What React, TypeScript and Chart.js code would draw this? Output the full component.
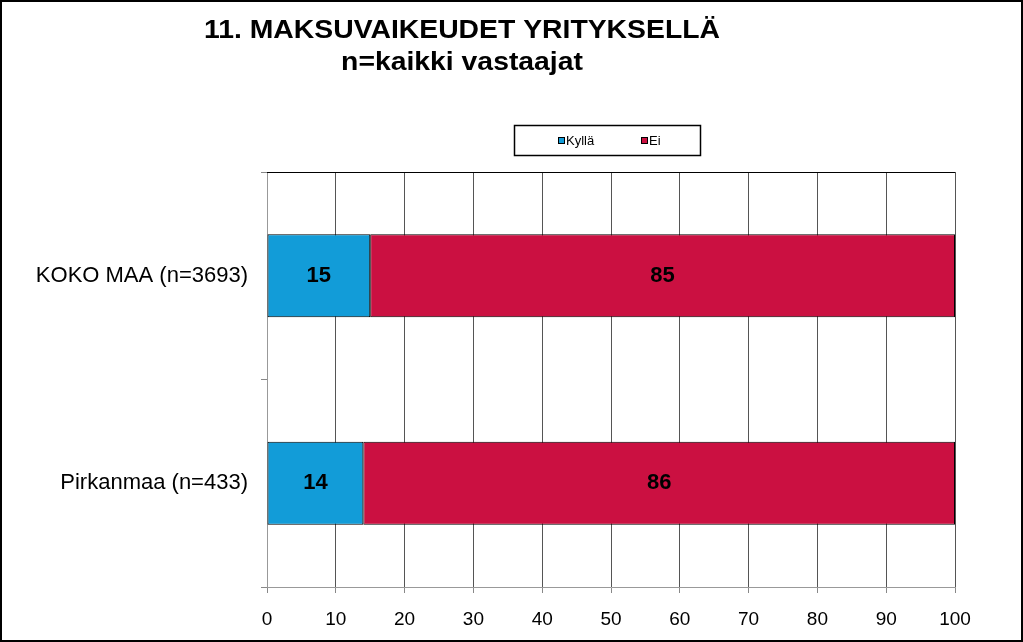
import React, { useEffect, useRef } from "react";
import Chart from "chart.js/auto";

const categories = ["KOKO MAA (n=3693)", "Pirkanmaa (n=433)"];
const kyllaValues = [15, 14];
const eiValues = [85, 86];
const seriesNames = ["Kyllä", "Ei"];
const xTicks = [0, 10, 20, 30, 40, 50, 60, 70, 80, 90, 100];
const titleLines = ["11. MAKSUVAIKEUDET YRITYKSELLÄ", "n=kaikki vastaajat"];

const FONT = "'Liberation Sans', Arial, sans-serif";
const BLUE = "#129CD8";
const RED = "#CB1041";

// frame, title, legend box and bar values, Excel style
const decorations = {
  id: "decorations",
  afterDraw(chart: any) {
    const ctx = chart.ctx;
    const area = chart.chartArea;
    ctx.save();

    // top edge of plot area
    ctx.strokeStyle = "#000";
    ctx.lineWidth = 1;
    ctx.beginPath();
    ctx.moveTo(area.left, area.top + 0.5);
    ctx.lineTo(area.right, area.top + 0.5);
    ctx.stroke();

    // title (slightly stretched, like the original picture)
    ctx.fillStyle = "#000";
    ctx.textAlign = "center";
    ctx.textBaseline = "middle";
    ctx.font = "bold 26px " + FONT;
    const sx = 1.09;
    ctx.save();
    ctx.scale(sx, 1);
    ctx.fillText(titleLines[0], 462 / sx, 31);
    ctx.fillText(titleLines[1], 462 / sx, 63);
    ctx.restore();

    // legend
    ctx.strokeStyle = "#000";
    ctx.lineWidth = 1.5;
    ctx.strokeRect(514.5, 125.5, 186, 30);
    const items = [
      { x: 558, color: BLUE, label: seriesNames[0] },
      { x: 641, color: RED, label: seriesNames[1] },
    ];
    ctx.font = "13px " + FONT;
    ctx.textAlign = "left";
    items.forEach((it) => {
      ctx.fillStyle = it.color;
      ctx.fillRect(it.x, 137, 7, 7);
      ctx.strokeStyle = "#000";
      ctx.lineWidth = 1;
      ctx.strokeRect(it.x + 0.5, 137.5, 6, 6);
      ctx.fillStyle = "#000";
      ctx.fillText(it.label, it.x + 8, 141);
    });

    // value labels
    ctx.font = "bold 22px " + FONT;
    ctx.textAlign = "center";
    ctx.textBaseline = "middle";
    chart.data.datasets.forEach((ds: any, i: number) => {
      const meta = chart.getDatasetMeta(i);
      meta.data.forEach((bar: any, j: number) => {
        const cx = (bar.x + bar.base) / 2;
        ctx.fillText(String(ds.data[j]), cx, bar.y);
      });
    });

    // outer frame
    ctx.strokeStyle = "#000";
    ctx.lineWidth = 2;
    ctx.strokeRect(1, 1, chart.width - 2, chart.height - 2);
    ctx.restore();
  },
};

function App(): JSX.Element {
  const chartRef = useRef<HTMLCanvasElement>(null);
  const chartInstance = useRef<Chart<"bar"> | null>(null);

  useEffect(() => {
    const ctx = chartRef.current?.getContext("2d");
    if (!ctx) return;
    if (chartInstance.current) chartInstance.current.destroy();

    chartInstance.current = new Chart(ctx, {
      type: "bar",
      data: {
        labels: categories,
        datasets: [
          {
            label: seriesNames[0],
            data: kyllaValues,
            backgroundColor: BLUE,
            borderColor: "#000",
            borderWidth: 1,
            borderSkipped: false,
            barPercentage: 0.4,
            categoryPercentage: 1,
          },
          {
            label: seriesNames[1],
            data: eiValues,
            backgroundColor: RED,
            borderColor: "#000",
            borderWidth: 1,
            borderSkipped: false,
            barPercentage: 0.4,
            categoryPercentage: 1,
          },
        ],
      },
      options: {
        indexAxis: "y",
        responsive: false,
        animation: false,
        layout: { padding: { left: 0, top: 172, right: 68, bottom: 0 } },
        plugins: {
          legend: { display: false },
          title: { display: false },
          tooltip: { enabled: false },
        },
        scales: {
          x: {
            stacked: true,
            min: 0,
            max: 100,
            afterFit: (s: any) => {
              s.height = 55;
            },
            afterBuildTicks: (s: any) => {
              s.ticks = xTicks.map((v) => ({ value: v }));
            },
            grid: {
              color: "#555",
              lineWidth: 1,
              tickLength: 6,
              tickColor: "#888",
            },
            border: { color: "#999", width: 1 },
            ticks: {
              color: "#000",
              font: { family: FONT, size: 19 },
              padding: 15,
              maxRotation: 0,
            },
          },
          y: {
            stacked: true,
            afterFit: (s: any) => {
              s.width = 267;
            },
            grid: {
              drawOnChartArea: false,
              tickLength: 6,
              color: "#888",
            },
            border: { color: "#999", width: 1 },
            ticks: {
              color: "#000",
              font: { family: FONT, size: 22 },
              padding: 13,
            },
          },
        },
      },
      plugins: [decorations],
    });

    return () => {
      if (chartInstance.current) {
        chartInstance.current.destroy();
        chartInstance.current = null;
      }
    };
  }, []);

  return (
    <div style={{ width: 1023, height: 642, background: "#fff" }}>
      <style>{"body{margin:0;}"}</style>
      <canvas ref={chartRef} width={1023} height={642}></canvas>
    </div>
  );
}

export default App;
